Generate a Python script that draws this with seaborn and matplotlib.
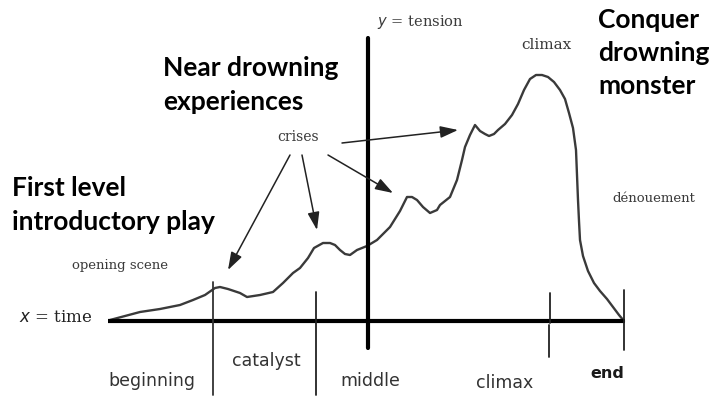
import matplotlib
matplotlib.use("Agg")
import matplotlib.pyplot as plt
import seaborn as sns
import pandas as pd
import numpy as np

# Curve data: time (x) and tension (y), arbitrary units
time = [0, 15, 30, 50, 70, 83, 95, 105, 110, 118, 130, 137, 150, 163, 173, 183,
        190, 198, 204, 213, 220, 225, 230, 235, 240, 247, 257, 267, 280, 290,
        297, 302, 307, 313, 320, 327, 330, 340, 347, 352, 355, 360, 365, 370,
        375, 379, 384, 388, 395, 402, 408, 414, 420, 426, 432, 438, 444, 450,
        455, 459, 463, 466, 467, 468, 469, 470, 473, 478, 484, 490, 497, 503,
        509, 514]
tension = [1, 5, 9, 12, 16, 21, 26, 33, 34, 32, 28, 24, 26, 29, 38, 48,
           53, 63, 73, 78, 78, 76, 71, 67, 66, 71, 75, 81, 94, 110,
           124, 124, 121, 114, 108, 111, 116, 124, 141, 161, 174, 186, 196, 190,
           187, 185, 187, 191, 197, 206, 217, 231, 242, 246, 246, 244, 239, 231,
           222, 208, 193, 171, 146, 121, 100, 81, 65, 50, 38, 30, 22, 14,
           6, 0]

phase_ticks = [103, 206, 440, 514]
phase_labels = ["beginning", "catalyst", "middle", "climax", "end"]
yaxis_time = 258

sns.set_theme(style="white")
fig = plt.figure(figsize=(7.21, 4.01), dpi=100)
ax = fig.add_axes([0, 0, 1, 1])
ax.set_xlim(-110, 611)
ax.set_ylim(-80, 321)
ax.axis("off")

df = pd.DataFrame({"time": time, "tension": tension})
sns.lineplot(data=df, x="time", y="tension", ax=ax, color="#3a3a3a", lw=1.7,
             sort=False)

# axes
ax.plot([-2, 515], [0, 0], color="black", lw=3, solid_capstyle="butt")
ax.plot([yaxis_time, yaxis_time], [-27, 283], color="black", lw=3)
# phase separators
ax.plot([phase_ticks[0]]*2, [39, -74], color="#333333", lw=1.3)
ax.plot([phase_ticks[1]]*2, [29, -74], color="#222222", lw=1.3)
ax.plot([phase_ticks[2]]*2, [28, -2], color="#222222", lw=1.3)
ax.plot([phase_ticks[2]-1]*2, [-4, -36], color="#222222", lw=1.3)
ax.plot([phase_ticks[3]]*2, [31, -29], color="#222222", lw=1.3)

serif = "DejaVu Serif"
def lab(x, y, s, **kw):
    ax.text(x, y, s, **kw)

sm = dict(family=serif, color="#3a3a3a", ha="center", va="center")
lab(310, 299, r"$y$ = tension", fontsize=10.5, **sm)
lab(188, 184, "crises", fontsize=10, **sm)
lab(436, 276, "climax", fontsize=11, **sm)
lab(544, 122, "dénouement", fontsize=9.5, **sm)
lab(10, 55, "opening scene", fontsize=9.5, **sm)
lab(-54, 3, r"$x$ = time", fontsize=12, family=serif, color="#222222",
    ha="center", va="center")

# bold annotations
bold = dict(family="Lato", fontweight="bold", fontsize=19, color="black",
            va="center", ha="left", linespacing=1.45)
lab(53, 236, "Near drowning\nexperiences", **bold)
lab(-98, 116, "First level\nintroductory play", **bold)
lab(488, 268, "Conquer\ndrowning\nmonster", **bold)

# phase labels
pl = dict(family="DejaVu Sans", fontsize=12.5, color="#333333", va="center", ha="center")
lab(42, -60, phase_labels[0], **pl)
lab(156, -40, phase_labels[1], **pl)
lab(260, -60, phase_labels[2], **pl)
lab(395, -62, phase_labels[3], **pl)
lab(497, -52, phase_labels[4], fontweight="bold", family="DejaVu Sans",
    fontsize=11.5, color="#1a1a1a", va="center", ha="center")

# arrows from "crises"
arrows = [((180, 166), (118, 51)), ((192, 166), (207, 91)),
          ((218, 166), (283, 128)), ((232, 178), (348, 191))]
for (x0, y0), (x1, y1) in arrows:
    ax.annotate("", xy=(x1, y1), xytext=(x0, y0),
                arrowprops=dict(arrowstyle="-|>,head_length=0.9,head_width=0.3",
                                color="#222222", lw=1.1, shrinkA=0, shrinkB=0))

fig.savefig("out.png", dpi=100)
